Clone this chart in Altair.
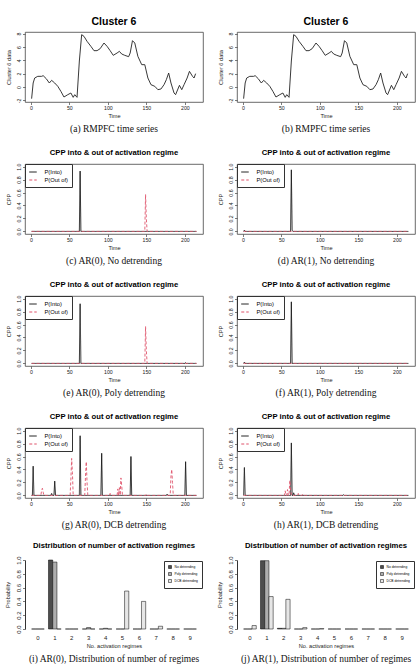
import altair as alt
import pandas as pd

FONT = "Liberation Sans"
SERIF = "Liberation Serif"
W = 178      # plot width of every panel
H = 70       # plot height of the line panels
HB = 69      # plot height of the bar panels

# ---------------- RMPFC cluster 6 time series ----------------
ts_time = [1, 3, 5, 9, 14, 16, 20, 24, 27, 31, 35, 39, 43, 48, 52, 55, 57, 60,
           63, 66, 69, 73, 78, 82, 86, 90, 95, 99, 103, 107, 112, 115, 118, 122,
           127, 129, 132, 135, 139, 144, 148, 152, 156, 161, 165, 169, 173, 176,
           179, 182, 186, 188, 193, 196, 199, 203, 206, 210, 212, 214]
ts_value = [-1.75, 0.6, 1.35, 1.6, 1.6, 1.7, 1.25, 0.6, 1.0, 0.6, 0.1, -0.65,
            -1.5, -1.15, -0.9, -1.55, -1.15, -1.55, 3.9, 7.85, 7.6, 6.85, 6.1,
            5.45, 5.45, 5.75, 6.6, 6.1, 5.45, 4.75, 5.1, 5.35, 4.95, 4.75, 4.55,
            5.1, 6.95, 6.6, 4.6, 3.35, 3.35, 1.35, 0.35, 0.1, -0.4, -0.3, 0.35,
            1.1, 2.1, 0.6, -0.9, -1.15, 0.25, -0.4, 0.35, 1.35, 2.35, 1.6, 1.35, 2.0]

# ---------------- change-point probabilities ----------------
# non-zero CPP values (time -> probability); every other time point is 0
T_MAX = 215
c_into_t, c_into_p = [64], [0.93]
c_out_t, c_out_p = [149, 150], [0.57, 0.2]
d_into_t, d_into_p = [2, 63, 64], [0.02, 0.95, 0.02]
d_out_t, d_out_p = [], []
e_into_t, e_into_p = [64, 201], [0.92, 0.01]
e_out_t, e_out_p = [149, 150], [0.57, 0.2]
f_into_t, f_into_p = [2, 63], [0.02, 0.95]
f_out_t, f_out_p = [], []
g_into_t = [3, 27, 31, 64, 92, 130, 177, 201]
g_into_p = [0.45, 0.03, 0.22, 0.92, 0.65, 0.60, 0.02, 0.52]
g_out_t = [14, 15, 16, 52, 53, 54, 71, 72, 73, 103, 113, 115, 117, 118, 150, 182, 183, 184]
g_out_p = [0.08, 0.11, 0.05, 0.25, 0.57, 0.35, 0.3, 0.52, 0.2, 0.03, 0.1, 0.12, 0.27, 0.15, 0.02, 0.3, 0.4, 0.2]
h_into_t, h_into_p = [2, 63, 66, 131], [0.43, 0.81, 0.04, 0.01]
h_out_t = [55, 58, 61, 62, 72, 78]
h_out_p = [0.07, 0.09, 0.23, 0.1, 0.03, 0.02]

# ---------------- distribution of number of regimes ----------------
n_regimes = list(range(10))
methods = ["No detrending", "Poly detrending", "DCB detrending"]
i_no = [0, 1.0, 0, 0, 0, 0, 0, 0, 0, 0]
i_poly = [0, 0.97, 0, 0.02, 0.01, 0, 0, 0, 0, 0]
i_dcb = [0, 0, 0, 0, 0, 0.55, 0.40, 0.04, 0, 0]
j_no = [0, 0.99, 0.01, 0, 0, 0, 0, 0, 0, 0]
j_poly = [0, 0.99, 0.01, 0, 0, 0, 0, 0, 0, 0]
j_dcb = [0.05, 0.47, 0.43, 0.02, 0.005, 0, 0, 0, 0, 0]

SERIES = ["P(Into)", "P(Out of)"]
X_DOMAIN = [-7.6, 223.6]


def cpp_frame(into_t, into_p, out_t, out_p):
    rows = []
    for name, ts, ps in ((SERIES[0], into_t, into_p), (SERIES[1], out_t, out_p)):
        spikes = dict(zip(ts, ps))
        for t in range(1, T_MAX + 1):
            rows.append({"time": t, "cpp": spikes.get(t, 0.0), "series": name})
    return pd.DataFrame(rows)


def time_x():
    return alt.X("time:Q",
                 scale=alt.Scale(domain=X_DOMAIN, nice=False, zero=False),
                 axis=alt.Axis(values=[0, 50, 100, 150, 200], title="Time"))


def caption(text, y):
    return alt.Chart(pd.DataFrame({"caption": [text]})).mark_text(
        font=SERIF, fontSize=9.5, color="#111"
    ).encode(x=alt.value(W / 2), y=alt.value(y), text="caption:N")


box = alt.ViewBackground(stroke="#444", strokeWidth=0.8)


def ts_panel(cap):
    df = pd.DataFrame({"time": ts_time, "value": ts_value})
    line = alt.Chart(df).mark_line(color="#222", strokeWidth=0.9).encode(
        x=time_x(),
        y=alt.Y("value:Q",
                scale=alt.Scale(domain=[-2.25, 8.25], nice=False, zero=False),
                axis=alt.Axis(values=[-2, 0, 2, 4, 6, 8], labelExpr="datum.value + ''",
                              title="Cluster 6 data")),
    )
    return alt.layer(line, caption(cap, H + 27)).properties(
        width=W, height=H, view=box,
        title=alt.TitleParams("Cluster 6", fontSize=10.5, offset=5),
    )


def cpp_panel(into_t, into_p, out_t, out_p, cap):
    df = cpp_frame(into_t, into_p, out_t, out_p)
    enc = dict(
        x=time_x(),
        y=alt.Y("cpp:Q",
                scale=alt.Scale(domain=[-0.04, 1.04], nice=False, zero=False),
                axis=alt.Axis(values=[0, 0.2, 0.4, 0.6, 0.8, 1.0], format=".1f", title="CPP")),
        color=alt.Color("series:N",
                        scale=alt.Scale(domain=SERIES, range=["#111111", "#DF536B"]),
                        legend=alt.Legend(title=None, orient="top-left", offset=0, padding=3.5,
                                          strokeColor="#333", fillColor="white",
                                          symbolType="stroke", symbolSize=56,
                                          symbolStrokeWidth=1, labelFontSize=5.8,
                                          labelFont=FONT, labelOffset=7, rowPadding=0)),
        strokeDash=alt.StrokeDash("series:N",
                                  scale=alt.Scale(domain=SERIES, range=[[1, 0], [3, 2]])),
    )
    into = alt.Chart(df).transform_filter(alt.datum.series == SERIES[0]).mark_line(
        strokeWidth=0.9).encode(**enc)
    out = alt.Chart(df).transform_filter(alt.datum.series == SERIES[1]).mark_line(
        strokeWidth=0.9).encode(**enc)
    return alt.layer(into, out, caption(cap, H + 27)).properties(
        width=W, height=H, view=box,
        title="CPP into & out of activation regime",
    )


def bar_panel(no, poly, dcb, cap):
    rows = []
    for m, vals in zip(methods, (no, poly, dcb)):
        for n, v in zip(n_regimes, vals):
            rows.append({"n": n, "method": m, "prob": v})
    df = pd.DataFrame(rows)
    bars = alt.Chart(df).mark_bar(stroke="black", strokeWidth=0.5).encode(
        x=alt.X("n:O", scale=alt.Scale(paddingInner=0.25, paddingOuter=0.39),
                axis=alt.Axis(title="No. activation regimes", labelAngle=0, domain=False,
                              ticks=False, labelPadding=5, labelFontSize=6,
                              titlePadding=3)),
        xOffset=alt.XOffset("method:N", sort=methods,
                            scale=alt.Scale(paddingInner=0, paddingOuter=0)),
        y=alt.Y("prob:Q", scale=alt.Scale(domain=[0, 1], nice=False),
                axis=alt.Axis(values=[0, 0.2, 0.4, 0.6, 0.8, 1.0], format=".1f",
                              title="Probability", domain=True, domainColor="#333",
                              labelFontSize=6)),
        color=alt.Color("method:N",
                        scale=alt.Scale(domain=methods, range=["#4D4D4D", "#AEAEAE", "#E6E6E6"]),
                        legend=alt.Legend(title=None, orient="top-right", offset=1, padding=4,
                                          strokeColor="#333", fillColor="white",
                                          symbolType="square", symbolSize=9,
                                          symbolStrokeColor="black", symbolStrokeWidth=0.5,
                                          labelFontSize=3.3, labelFont=FONT, labelOffset=2.5,
                                          rowPadding=1)),
    )
    return alt.layer(bars, caption(cap, HB + 30)).properties(
        width=W, height=HB, view=alt.ViewBackground(stroke="transparent"),
        title="Distribution of number of activation regimes",
    )


panels = [
    ts_panel("(a)  RMPFC time series"), ts_panel("(b)  RMPFC time series"),
    cpp_panel(c_into_t, c_into_p, c_out_t, c_out_p, "(c)  AR(0), No detrending"),
    cpp_panel(d_into_t, d_into_p, d_out_t, d_out_p, "(d)  AR(1), No detrending"),
    cpp_panel(e_into_t, e_into_p, e_out_t, e_out_p, "(e)  AR(0), Poly detrending"),
    cpp_panel(f_into_t, f_into_p, f_out_t, f_out_p, "(f)  AR(1), Poly detrending"),
    cpp_panel(g_into_t, g_into_p, g_out_t, g_out_p, "(g)  AR(0), DCB detrending"),
    cpp_panel(h_into_t, h_into_p, h_out_t, h_out_p, "(h)  AR(1), DCB detrending"),
    bar_panel(i_no, i_poly, i_dcb, "(i)  AR(0), Distribution of number of regimes"),
    bar_panel(j_no, j_poly, j_dcb, "(j)  AR(1), Distribution of number of regimes"),
]

chart = alt.concat(
    *panels, columns=2, spacing={"row": 62, "column": 34}, bounds="flush"
).resolve_scale(
    color="independent", strokeDash="independent"
).resolve_legend(
    color="independent", strokeDash="independent"
).properties(
    padding={"left": 4, "top": 16, "right": 0, "bottom": 0}
).configure_view(
    stroke="#444", strokeWidth=0.8
).configure_axis(
    grid=False, domain=False, tickColor="#444", tickSize=2.5, tickWidth=0.7,
    labelFont=FONT, labelFontSize=5.2, labelColor="#222", labelPadding=1,
    titleFont=FONT, titleFontSize=5.6, titleFontWeight="normal", titleColor="#222",
).configure_axisX(
    titlePadding=3,
).configure_axisY(
    labelAngle=270, labelAlign="center", labelBaseline="bottom", titlePadding=5.5,
).configure_title(
    font=FONT, fontSize=7.7, fontWeight="bold", anchor="middle", frame="group",
    offset=6, color="black",
)

chart.save("out.html", embed_options={"renderer": "svg", "actions": False})
